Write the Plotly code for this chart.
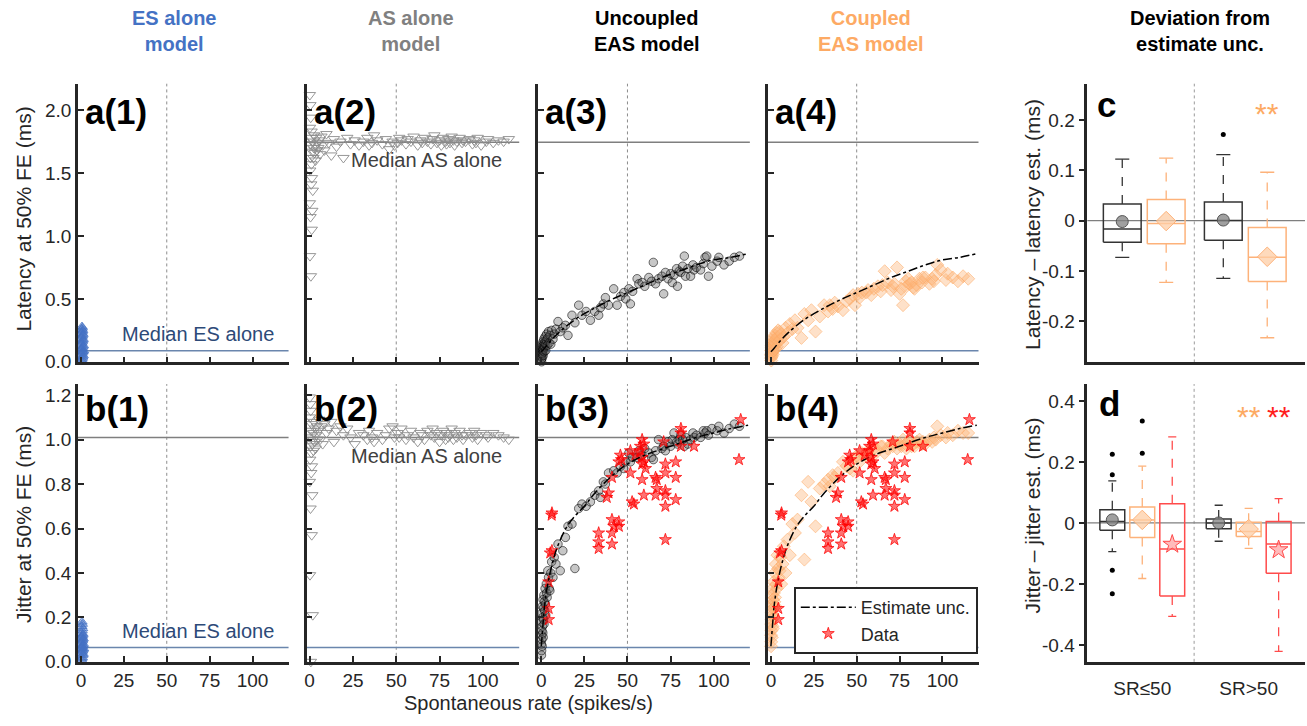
import plotly.graph_objects as go

# ---------------- data ----------------
# spontaneous rates of the modelled fibres (spikes/s)
sr = [0.1, 0.1, 0.2, 0.2, 0.3, 0.3, 0.4, 0.5, 0.5, 0.6,
      0.7, 0.8, 0.9, 1.0, 1.1, 1.2, 1.3, 1.5, 1.6, 1.8,
      2.0, 2.2, 2.4, 2.6, 2.9, 3.1, 3.4, 3.8, 4.2, 4.6,
      5.0, 5.5, 6.0, 6.8, 7.5, 8.5, 9.7, 11, 12.5, 14, 15.5, 17.8, 19.5, 21.7, 23.6, 26, 28.5,
      31, 33.3, 34.3, 36, 37.2, 39, 42, 44, 46, 47.9, 49,
      50.8, 51.7, 53, 55.6, 56.6, 58.5, 60, 62.4, 64, 65,
      66.3, 68, 70, 71, 72, 73.5, 75, 76, 77, 78.5,
      79, 80, 81, 82, 83, 83.7, 85, 86.6, 88, 88.6,
      90, 92.4, 94, 95, 96, 97, 99, 102, 103, 106, 109, 112, 115]

as_lat = [1.26, 2.12, 0.84, 1.86, 1.52, 1.73, 2.04, 1.15, 1.62, 1.94,
          0.68, 1.78, 1.41, 1.57, 1.83, 1.05, 1.46, 1.20, 1.67, 1.36,
          1.75, 1.62, 1.70, 1.80, 1.66, 1.72, 1.60, 1.78, 1.68, 1.74,
          1.70, 1.76, 1.65, 1.79, 1.72, 1.68, 1.81, 1.74, 1.64, 1.77, 1.71, 1.75, 1.62, 1.78, 1.73, 1.76, 1.72,
          1.75, 1.78, 1.72, 1.74, 1.80, 1.76, 1.73, 1.77, 1.69, 1.75, 1.72,
          1.74, 1.78, 1.76, 1.73, 1.77, 1.75, 1.79, 1.72, 1.76, 1.74,
          1.78, 1.75, 1.73, 1.77, 1.80, 1.74, 1.76, 1.72, 1.78, 1.75,
          1.73, 1.77, 1.74, 1.79, 1.76, 1.72, 1.75, 1.78, 1.74, 1.76,
          1.75, 1.77, 1.73, 1.76, 1.74, 1.78, 1.72, 1.75, 1.77, 1.74, 1.76, 1.75, 1.77]

unc_lat = [0.02, 0.05, 0.00, 0.08, 0.04, 0.12, 0.06, 0.10, 0.03, 0.14,
           0.07, 0.11, 0.09, 0.16, 0.05, 0.13, 0.10, 0.18, 0.08, 0.15,
           0.12, 0.20, 0.14, 0.09, 0.17, 0.22, 0.13, 0.19, 0.24, 0.15,
           0.21, 0.14, 0.25, 0.18, 0.22, 0.26, 0.32, 0.24, 0.27, 0.29, 0.21, 0.37, 0.31, 0.45, 0.37, 0.40, 0.33,
           0.40, 0.37, 0.43, 0.46, 0.51, 0.45, 0.58, 0.45, 0.52, 0.55, 0.50,
           0.58, 0.46, 0.56, 0.66, 0.62, 0.63, 0.60, 0.67, 0.64, 0.79,
           0.62, 0.66, 0.68, 0.54, 0.71, 0.66, 0.70, 0.63, 0.69, 0.74,
           0.60, 0.72, 0.71, 0.76, 0.84, 0.68, 0.74, 0.68, 0.77, 0.73,
           0.75, 0.73, 0.78, 0.83, 0.84, 0.68, 0.76, 0.80, 0.83, 0.77, 0.80, 0.83, 0.84]

coup_lat = [0.03, 0.06, 0.01, 0.09, 0.05, 0.11, 0.07, 0.13, 0.04, 0.15,
            0.08, 0.12, 0.10, 0.17, 0.06, 0.14, 0.11, 0.19, 0.09, 0.16,
            0.13, 0.21, 0.15, 0.10, 0.18, 0.23, 0.12, 0.20, 0.25, 0.16,
            0.24, 0.18, 0.22, 0.15, 0.20, 0.27, 0.23, 0.30, 0.26, 0.33, 0.27, 0.19, 0.38, 0.33, 0.41, 0.24, 0.36,
            0.45, 0.40, 0.45, 0.42, 0.47, 0.44, 0.41, 0.48, 0.50, 0.53, 0.45,
            0.54, 0.51, 0.55, 0.55, 0.57, 0.53, 0.58, 0.60, 0.56, 0.61,
            0.72, 0.63, 0.57, 0.60, 0.62, 0.75, 0.54, 0.58, 0.45, 0.64,
            0.60, 0.66, 0.62, 0.63, 0.59, 0.58, 0.61, 0.66, 0.63, 0.67,
            0.67, 0.62, 0.66, 0.64, 0.69, 0.77, 0.73, 0.65, 0.70, 0.67, 0.64, 0.68, 0.66]

as_jit = [0.81, 1.19, 0.39, 1.10, 0.91, 1.01, 1.16, 0.69, 0.97, 1.13,
          0.00, 1.04, 0.85, 0.94, 1.07, 0.57, 0.88, 0.75, 0.98, 0.21,
          1.00, 0.95, 1.03, 1.08, 0.99, 1.05, 0.96, 1.02, 1.06, 1.00,
          1.04, 1.09, 1.00, 1.06, 0.98, 1.07, 1.03, 1.05, 1.08, 0.99, 1.04, 1.06, 1.02, 1.05, 1.01, 0.98, 1.03,
          1.02, 1.00, 1.04, 1.01, 0.99, 1.03, 1.00, 1.02, 1.05, 1.06, 1.01,
          1.03, 1.01, 1.05, 1.00, 1.02, 1.04, 1.01, 0.99, 1.03, 1.02,
          1.00, 1.04, 1.02, 1.05, 1.01, 1.03, 0.99, 1.02, 1.04, 1.00,
          1.03, 1.01, 1.02, 1.05, 1.00, 1.03, 1.01, 1.04, 1.02, 1.00,
          1.02, 1.03, 1.01, 1.04, 1.02, 1.00, 1.03, 1.02, 1.01, 1.03, 1.02, 1.01, 1.00]

unc_jit = [0.03, 0.08, 0.05, 0.12, 0.10, 0.18, 0.14, 0.22, 0.07, 0.25,
           0.16, 0.20, 0.13, 0.28, 0.11, 0.24, 0.19, 0.30, 0.17, 0.27,
           0.23, 0.33, 0.26, 0.21, 0.35, 0.31, 0.29, 0.41, 0.38, 0.33,
           0.32, 0.40, 0.45, 0.38, 0.47, 0.44, 0.53, 0.41, 0.50, 0.56, 0.61, 0.62, 0.42, 0.69, 0.71, 0.70, 0.72,
           0.75, 0.77, 0.74, 0.81, 0.80, 0.85, 0.86, 0.85, 0.88, 0.87, 0.90,
           0.94, 0.90, 0.92, 0.92, 0.95, 0.93, 0.96, 0.94, 0.92, 0.91,
           0.95, 1.00, 0.96, 0.97, 0.95, 0.99, 0.97, 1.00, 1.03, 0.99,
           0.98, 1.00, 1.02, 1.00, 0.97, 1.01, 0.98, 1.00, 1.03, 1.01,
           1.02, 1.01, 1.04, 1.03, 1.04, 1.02, 1.05, 1.04, 1.06, 1.03, 1.05, 1.07, 1.06]

coup_jit = [0.07, 0.12, 0.09, 0.17, 0.14, 0.22, 0.19, 0.26, 0.11, 0.30,
            0.21, 0.25, 0.16, 0.33, 0.15, 0.28, 0.24, 0.36, 0.20, 0.31,
            0.27, 0.40, 0.29, 0.25, 0.44, 0.35, 0.33, 0.48, 0.42, 0.38,
            0.41, 0.47, 0.35, 0.44, 0.52, 0.40, 0.55, 0.48, 0.62, 0.58, 0.64, 0.75, 0.46, 0.81, 0.72, 0.61, 0.78,
            0.80, 0.82, 0.79, 0.84, 0.83, 0.85, 0.90, 0.88, 0.87, 0.86, 0.92,
            0.92, 0.90, 0.94, 0.93, 0.95, 0.92, 0.96, 0.95, 0.97, 0.97,
            0.94, 0.96, 0.98, 0.97, 0.99, 0.96, 0.98, 0.97, 1.00, 0.98,
            0.96, 0.99, 1.00, 0.97, 0.98, 0.97, 0.99, 1.00, 0.98, 0.99,
            0.98, 1.00, 0.99, 1.01, 1.00, 1.06, 1.02, 1.01, 1.03, 1.02, 1.04, 1.03, 1.03]

# ES alone model (no spontaneous activity)
es_sr = [0.2, 0.5, 0.8, 1.0, 1.3, 0.3, 0.6, 0.9, 1.2, 1.5,
         0.1, 0.4, 0.7, 1.1, 1.4, 0.2, 0.5, 0.8, 1.0, 1.3,
         0.3, 0.6, 0.9, 1.2, 0.4, 0.7, 1.0, 0.5, 0.8, 0.6]
es_lat = [0.01, 0.02, 0.03, 0.04, 0.05, 0.06, 0.07, 0.08, 0.08, 0.09,
          0.10, 0.10, 0.11, 0.12, 0.13, 0.14, 0.15, 0.16, 0.17, 0.18,
          0.19, 0.20, 0.21, 0.22, 0.23, 0.24, 0.25, 0.26, 0.27, 0.28]
es_jit = [0.01, 0.015, 0.02, 0.03, 0.035, 0.04, 0.045, 0.05, 0.055, 0.06,
          0.06, 0.065, 0.07, 0.075, 0.08, 0.085, 0.09, 0.095, 0.10, 0.105,
          0.11, 0.115, 0.12, 0.125, 0.13, 0.14, 0.15, 0.16, 0.17, 0.18]

# measured data (red stars)
data_sr = [4.3, 4.3, 4.3, 5.2, 6.2, 6.2, 6.0, 33.3, 33.3, 33.3,
           38, 39, 41, 41, 41, 41, 42, 45, 45, 45,
           45.9, 46.5, 51.7, 51.7, 52.7, 53.7, 54.6, 57.5, 57.5, 58.5,
           58.5, 58.5, 58.5, 59.5, 59.5, 59.5, 60.5, 66.3, 66.3, 67,
           67, 71, 72, 72, 72, 72, 72, 72, 78, 78,
           78, 81, 81, 81, 88.6, 114.7, 115.7]
data_jit = [0.19, 0.24, 0.36, 0.49, 0.50, 0.67, 0.66, 0.51, 0.54, 0.58,
            0.74, 0.76, 0.53, 0.58, 0.64, 0.83, 0.61, 0.61, 0.63, 0.90,
            0.93, 0.91, 0.85, 0.95, 0.72, 0.71, 0.93, 0.95, 0.97, 0.82,
            0.89, 0.92, 1.00, 0.75, 0.90, 0.98, 0.87, 0.75, 0.83, 0.78,
            0.82, 0.99, 0.55, 0.70, 0.75, 0.77, 0.85, 0.89, 0.73, 0.83,
            0.90, 0.97, 1.03, 1.05, 0.97, 0.91, 1.09]

# estimate (uncoupled) curves
lat_est_sr = [0, 2, 5, 10, 20, 30, 40, 50, 60, 70, 80, 90, 100, 110, 120]
lat_est = [0.08, 0.11, 0.16, 0.23, 0.34, 0.42, 0.49, 0.55, 0.61, 0.67, 0.72, 0.77, 0.81, 0.83, 0.86]
jit_est_sr = [0, 1, 2, 4, 7, 10, 15, 20, 25, 30, 40, 50, 60, 75, 90, 100, 110, 120]
jit_est = [0.07, 0.17, 0.26, 0.36, 0.46, 0.53, 0.61, 0.66, 0.70, 0.75, 0.83, 0.89, 0.93, 0.97, 1.01, 1.03, 1.05, 1.065]

# medians of the single-stimulation models
med_es_lat, med_as_lat = 0.088, 1.745
med_es_jit, med_as_jit = 0.065, 1.01

# box statistics panel c (latency - latency est.)
c_labels = ["Uncoupled SR<=50", "Coupled SR<=50", "Uncoupled SR>50", "Coupled SR>50"]
c_q1 = [-0.043, -0.046, -0.039, -0.121]
c_med = [-0.017, -0.006, 0.0, -0.073]
c_q3 = [0.033, 0.042, 0.037, -0.014]
c_lo = [-0.073, -0.123, -0.115, -0.233]
c_hi = [0.122, 0.124, 0.131, 0.096]
c_mean = [-0.002, -0.001, 0.001, -0.072]
c_out = [[], [], [0.171], []]

# box statistics panel d (jitter - jitter est.)
d_labels = ["Uncoupled SR<=50", "Coupled SR<=50", "Data SR<=50",
            "Uncoupled SR>50", "Coupled SR>50", "Data SR>50"]
d_q1 = [-0.024, -0.048, -0.239, -0.019, -0.044, -0.165]
d_med = [0.005, 0.010, -0.085, 0.0, -0.028, -0.069]
d_q3 = [0.043, 0.052, 0.063, 0.013, 0.002, 0.005]
d_lo = [-0.094, -0.182, -0.306, -0.060, -0.083, -0.421]
d_hi = [0.138, 0.186, 0.282, 0.058, 0.048, 0.080]
d_mean = [0.010, 0.010, -0.070, 0.0, -0.020, -0.088]
d_out = [[0.225, 0.158, -0.155, -0.232], [0.228, 0.334], [], [], [], []]

n = len(sr)
for arr in (as_lat, unc_lat, coup_lat, as_jit, unc_jit, coup_jit):
    assert len(arr) == n, len(arr)
assert len(data_sr) == len(data_jit)
assert len(es_sr) == len(es_lat) == len(es_jit)

# ---------------- styling / layout ----------------
W, H = 1307, 726
FONT = "Arial, 'Liberation Sans', Helvetica, sans-serif"
TXT = "#262626"
BLUE = "rgb(68,114,196)"
ORANGE = "rgb(253,170,100)"
RED = "rgb(255,30,30)"
ES_LINE = "#6a86ad"
ES_TXT = "#2d4a78"
AS_LINE = "#7f7f7f"
TICK_SIZE = 19


def fx(p):
    return p / W


def fy(p):
    return 1 - p / H


def ref(i):
    s = "" if i == 1 else str(i)
    return "x" + s, "y" + s


col_px = [(76, 287), (305, 518), (537, 749), (767, 978)]
row_px = [(85, 368), (390, 672)]
cd_px = (1087, 1305)

fig = go.Figure()
layout_axes = {}
shapes = []
annotations = []

axis_common = dict(showline=True, linecolor=TXT, linewidth=2.5, ticks="inside", ticklen=6,
                   tickwidth=2, tickcolor=TXT, showgrid=False, zeroline=False,
                   tickfont=dict(size=TICK_SIZE, family=FONT, color=TXT), mirror=False)

row_y = [
    dict(range=[-0.005, 2.21], tickvals=[0, 0.5, 1, 1.5, 2], ticktext=["0.0", "0.5", "1.0", "1.5", "2.0"]),
    dict(range=[0, 1.25], tickvals=[0, 0.2, 0.4, 0.6, 0.8, 1.0, 1.2],
         ticktext=["0.0", "0.2", "0.4", "0.6", "0.8", "1.0", "1.2"]),
]

for r in range(2):
    for c in range(4):
        i = r * 4 + c + 1
        xr, yr = ref(i)
        layout_axes["xaxis" + xr[1:]] = dict(
            axis_common, domain=[fx(col_px[c][0]), fx(col_px[c][1])], range=[-1.8, 121],
            anchor=yr, tickvals=[0, 25, 50, 75, 100], showticklabels=(r == 1))
        layout_axes["yaxis" + yr[1:]] = dict(
            axis_common, domain=[fy(row_px[r][1]), fy(row_px[r][0])], anchor=xr,
            showticklabels=(c == 0), **row_y[r])
        # dotted vertical line at SR = 50
        shapes.append(dict(type="line", xref=xr, yref=yr + " domain", x0=50, x1=50, y0=0, y1=1,
                           line=dict(color="#8c8c8c", width=1, dash="dot"), layer="below"))

# panel c and d axes
layout_axes["xaxis9"] = dict(axis_common, domain=[fx(cd_px[0]), fx(cd_px[1])], range=[0.205, 5.16],
                             anchor="y9", ticks="", showticklabels=False)
layout_axes["yaxis9"] = dict(axis_common, domain=[fy(row_px[0][1]), fy(row_px[0][0])], anchor="x9",
                             range=[-0.282, 0.272], ticks="outside",
                             tickvals=[-0.2, -0.1, 0, 0.1, 0.2], ticktext=["-0.2", "-0.1", "0", "0.1", "0.2"])
layout_axes["xaxis10"] = dict(axis_common, domain=[fx(cd_px[0]), fx(cd_px[1])], range=[0.167, 7.43],
                              anchor="y10", ticks="", tickvals=[2, 5.55], ticktext=["SR≤50", "SR>50"],
                              ticklabelstandoff=8)
layout_axes["yaxis10"] = dict(axis_common, domain=[fy(row_px[1][1]), fy(row_px[1][0])], anchor="x10",
                              range=[-0.455, 0.455], ticks="outside",
                              tickvals=[-0.4, -0.2, 0, 0.2, 0.4], ticktext=["-0.4", "-0.2", "0", "0.2", "0.4"])


def hline(i, yv, color, width=1.5):
    xr, yr = ref(i)
    shapes.append(dict(type="line", xref=xr + " domain", yref=yr, x0=0, x1=1, y0=yv, y1=yv,
                       line=dict(color=color, width=width), layer="below"))


# median lines
hline(1, med_es_lat, ES_LINE)
hline(2, med_as_lat, AS_LINE)
for i in (3, 4):
    hline(i, med_as_lat, AS_LINE)
    hline(i, med_es_lat, ES_LINE)
for i in (5, 6, 7, 8):
    hline(i, med_as_jit, AS_LINE)
    hline(i, med_es_jit, ES_LINE)


def scatter(i, x, y, symbol, size, fill, edge, ew=1, name=None, legend=False):
    xr, yr = ref(i)
    fig.add_trace(go.Scatter(x=x, y=y, xaxis=xr, yaxis=yr, mode="markers", name=name,
                             showlegend=legend, cliponaxis=False,
                             marker=dict(symbol=symbol, size=size, color=fill,
                                         line=dict(color=edge, width=ew))))


def est_line(i, x, y, legend=False):
    xr, yr = ref(i)
    fig.add_trace(go.Scatter(x=x, y=y, xaxis=xr, yaxis=yr, mode="lines", name="Estimate unc.",
                             showlegend=legend, line=dict(color="black", width=1.5, dash="dashdot",
                                                          shape="spline")))


ES_FILL = "rgba(68,114,196,0.45)"
ES_EDGE = "rgba(68,114,196,0.75)"
AS_COL = "rgba(140,140,140,0.9)"
UNC_FILL = "rgba(80,80,80,0.32)"
UNC_EDGE = "rgba(0,0,0,0.55)"
CP_FILL = "rgba(253,180,120,0.4)"
CP_EDGE = "rgba(253,170,100,0.55)"
ST_FILL = "rgba(255,0,0,0.55)"
ST_EDGE = "rgba(255,0,0,0.75)"

# row a
scatter(1, es_sr, es_lat, "triangle-up", 9, ES_FILL, ES_EDGE)
scatter(2, sr, as_lat, "triangle-down-open", 10, AS_COL, AS_COL)
scatter(3, sr, unc_lat, "circle", 8.5, UNC_FILL, UNC_EDGE)
est_line(3, lat_est_sr, lat_est)
scatter(4, sr, coup_lat, "diamond", 10, CP_FILL, CP_EDGE)
est_line(4, lat_est_sr, lat_est)
# row b
scatter(5, es_sr, es_jit, "triangle-up", 9, ES_FILL, ES_EDGE)
scatter(6, sr, as_jit, "triangle-down-open", 10, AS_COL, AS_COL)
scatter(7, sr, unc_jit, "circle", 8.5, UNC_FILL, UNC_EDGE)
scatter(7, data_sr, data_jit, "star", 9, ST_FILL, ST_EDGE)
est_line(7, jit_est_sr, jit_est)
scatter(8, sr, coup_jit, "diamond", 10, CP_FILL, CP_EDGE)
est_line(8, jit_est_sr, jit_est, legend=True)
scatter(8, data_sr, data_jit, "star", 9, ST_FILL, ST_EDGE, name="Data", legend=True)

# ---------------- box panels ----------------
GREY_BOX = "#333333"
ORANGE_BOX = "rgb(253,178,122)"
RED_BOX = "rgb(255,75,75)"
mean_style = {
    "unc": dict(symbol="circle", size=12, color="rgba(128,128,128,0.75)", line=dict(color="#555", width=1)),
    "cp": dict(symbol="diamond", size=15, color="rgba(253,205,165,0.75)", line=dict(color=ORANGE_BOX, width=1)),
    "data": dict(symbol="star", size=14, color="rgba(255,150,150,0.65)", line=dict(color=RED_BOX, width=1)),
}


def draw_box(i, pos, w, cw, q1, med, q3, lo, hi, mean, outs, color, kind):
    xr, yr = ref(i)
    # whiskers (dashed)
    fig.add_trace(go.Scatter(x=[pos, pos, None, pos, pos], y=[q3, hi, None, q1, lo], xaxis=xr, yaxis=yr,
                             mode="lines", showlegend=False, line=dict(color=color, width=1.3, dash="dash")))
    # caps
    fig.add_trace(go.Scatter(x=[pos - cw / 2, pos + cw / 2, None, pos - cw / 2, pos + cw / 2],
                             y=[hi, hi, None, lo, lo], xaxis=xr, yaxis=yr, mode="lines",
                             showlegend=False, line=dict(color=color, width=1.3)))
    # box + median
    fig.add_trace(go.Scatter(x=[pos - w / 2, pos + w / 2, pos + w / 2, pos - w / 2, pos - w / 2, None,
                                pos - w / 2, pos + w / 2],
                             y=[q1, q1, q3, q3, q1, None, med, med], xaxis=xr, yaxis=yr, mode="lines",
                             showlegend=False, line=dict(color=color, width=1.5)))
    if outs:
        fig.add_trace(go.Scatter(x=[pos] * len(outs), y=outs, xaxis=xr, yaxis=yr, mode="markers",
                                 showlegend=False, marker=dict(size=5, color="black")))
    fig.add_trace(go.Scatter(x=[pos], y=[mean], xaxis=xr, yaxis=yr, mode="markers", showlegend=False,
                             marker=mean_style[kind]))


c_pos = [1, 2, 3.3, 4.3]
c_kind = ["unc", "cp", "unc", "cp"]
box_col = {"unc": GREY_BOX, "cp": ORANGE_BOX, "data": RED_BOX}
for k in range(4):
    draw_box(9, c_pos[k], 0.86, 0.32, c_q1[k], c_med[k], c_q3[k], c_lo[k], c_hi[k], c_mean[k], c_out[k],
             box_col[c_kind[k]], c_kind[k])

d_pos = [1, 2, 3, 4.55, 5.55, 6.55]
d_kind = ["unc", "cp", "data", "unc", "cp", "data"]
for k in range(6):
    draw_box(10, d_pos[k], 0.83, 0.27, d_q1[k], d_med[k], d_q3[k], d_lo[k], d_hi[k], d_mean[k], d_out[k],
             box_col[d_kind[k]], d_kind[k])

for i, sep in ((9, 2.64), (10, 3.73)):
    xr, yr = ref(i)
    shapes.append(dict(type="line", xref=xr, yref=yr + " domain", x0=sep, x1=sep, y0=0, y1=1,
                       line=dict(color="#9a9a9a", width=1, dash="dot"), layer="below"))
    shapes.append(dict(type="line", xref=xr + " domain", yref=yr, x0=0, x1=1, y0=0, y1=0,
                       line=dict(color="#7f7f7f", width=1.3), layer="below"))


def stars(xr, yr, x, y, color):
    annotations.append(dict(xref=xr, yref=yr, x=x, y=y, text="**", showarrow=False,
                            font=dict(size=30, family=FONT, color=color), yanchor="middle", yshift=-7))


stars("x9", "y9", 4.3, 0.227, ORANGE)
stars("x10", "y10", 5.55, 0.373, ORANGE)
stars("x10", "y10", 6.55, 0.373, RED)

# ---------------- text ----------------


def ann(x, y, text, size=18, color=TXT, xanchor="center", yanchor="middle", angle=0, bold=False):
    t = f"<b>{text}</b>" if bold else text
    annotations.append(dict(xref="paper", yref="paper", x=fx(x), y=fy(y), text=t, showarrow=False,
                            xanchor=xanchor, yanchor=yanchor, textangle=angle,
                            font=dict(size=size, family=FONT, color=color)))


titles = [(172, "ES alone<br>model", BLUE), (410, "AS alone<br>model", "#808080"),
          (646, "Uncoupled<br>EAS model", "black"), (870, "Coupled<br>EAS model", ORANGE),
          (1200, "Deviation from<br>estimate unc.", "black")]
for x, t, col in titles:
    annotations.append(dict(xref="paper", yref="paper", x=fx(x), y=fy(31),
                            text="<b>" + t.replace("<br>", "</b><br><b>") + "</b>",
                            showarrow=False, xanchor="center", yanchor="middle",
                            font=dict(size=20, family=FONT, color=col)))

panel_labels = [("a(1)", 81, 113), ("a(2)", 310, 113), ("a(3)", 542, 113), ("a(4)", 772, 113),
                ("b(1)", 81, 415), ("b(2)", 310, 415), ("b(3)", 542, 415), ("b(4)", 772, 415),
                ("c", 1095, 106), ("d", 1097, 410)]
for t, x, y in panel_labels:
    ann(x, y, t, size=35, color="black", xanchor="left", bold=True)

ann(22, 222, "Latency at 50% FE (ms)", size=21, angle=-90)
ann(22, 532, "Jitter at 50% FE (ms)", size=21, angle=-90)
ann(1032, 228, "Latency – latency est. (ms)", size=21, angle=-90)
ann(1032, 523, "Jitter – jitter est. (ms)", size=21, angle=-90)
ann(527, 714, "Spontaneous rate (spikes/s)", size=20)

# median labels (data coordinates)
for i, yv in ((1, 0.22), (5, 0.14)):
    xr, yr = ref(i)
    annotations.append(dict(xref=xr, yref=yr, x=22.5, y=yv, text="Median ES alone", showarrow=False,
                            xanchor="left", yanchor="middle", font=dict(size=20, family=FONT, color=ES_TXT)))
for i, yv in ((2, 1.60), (6, 0.925)):
    xr, yr = ref(i)
    annotations.append(dict(xref=xr, yref=yr, x=23, y=yv, text="Median AS alone", showarrow=False,
                            xanchor="left", yanchor="middle", font=dict(size=20, family=FONT, color="#404040")))

fig.update_layout(
    width=W, height=H, margin=dict(l=0, r=0, t=0, b=0),
    paper_bgcolor="white", plot_bgcolor="white",
    font=dict(family=FONT, color=TXT),
    shapes=shapes, annotations=annotations,
    legend=dict(x=fx(793), y=fy(596), xanchor="left", yanchor="top", bgcolor="white",
                bordercolor=TXT, borderwidth=2, font=dict(size=18, family=FONT, color=TXT),
                tracegroupgap=0, itemwidth=55),
    **layout_axes,
)

fig.write_html("out.html")
